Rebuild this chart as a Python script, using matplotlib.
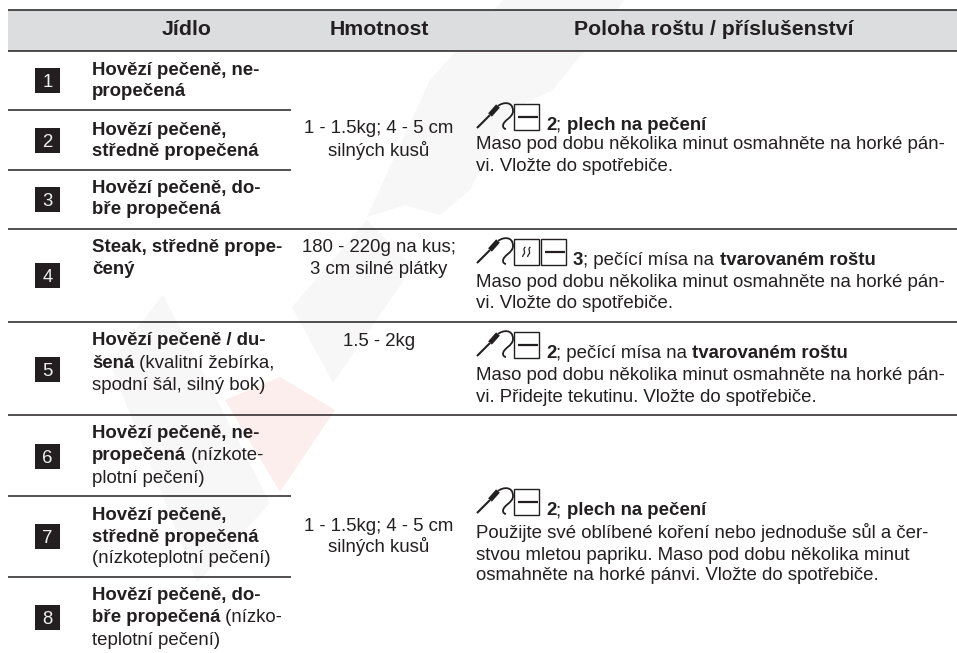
import matplotlib
matplotlib.use("Agg")
import matplotlib.pyplot as plt
from matplotlib.patches import Rectangle, Polygon, PathPatch
from matplotlib.path import Path

plt.rcParams['font.family'] = ['Liberation Sans', 'DejaVu Sans']

headers = ["Jídlo", "Hmotnost", "Poloha roštu / příslušenství"]
row_numbers = ["1", "2", "3", "4", "5", "6", "7", "8"]
food_runs = [
    [[("Hovězí pečeně, ne-", True)], [("propečená", True)]],
    [[("Hovězí pečeně,", True)], [("středně propečená", True)]],
    [[("Hovězí pečeně, do-", True)], [("bře propečená", True)]],
    [[("Steak, středně prope-", True)], [("čený", True)]],
    [[("Hovězí pečeně / du-", True)], [("šená", True), (" (kvalitní žebírka,", False)], [("spodní šál, silný bok)", False)]],
    [[("Hovězí pečeně, ne-", True)], [("propečená", True), (" (nízkote-", False)], [("plotní pečení)", False)]],
    [[("Hovězí pečeně,", True)], [("středně propečená", True)], [("(nízkoteplotní pečení)", False)]],
    [[("Hovězí pečeně, do-", True)], [("bře propečená", True), (" (nízko-", False)], [("teplotní pečení)", False)]],
]
weights = [["1 - 1.5kg; 4 - 5 cm", "silných kusů"],
           ["180 - 220g na kus;", "3 cm silné plátky"],
           ["1.5 - 2kg"],
           ["1 - 1.5kg; 4 - 5 cm", "silných kusů"]]
position_heads = [
    [("2", True), ("; ", False), ("plech na pečení", True)],
    [("3", True), ("; pečící mísa na ", False), ("tvarovaném roštu", True)],
    [("2", True), ("; pečící mísa na ", False), ("tvarovaném roštu", True)],
    [("2", True), ("; ", False), ("plech na pečení", True)],
]
position_bodies = [
    ["Maso pod dobu několika minut osmahněte na horké pán-", "vi. Vložte do spotřebiče."],
    ["Maso pod dobu několika minut osmahněte na horké pán-", "vi. Vložte do spotřebiče."],
    ["Maso pod dobu několika minut osmahněte na horké pán-", "vi. Přidejte tekutinu. Vložte do spotřebiče."],
    ["Použijte své oblíbené koření nebo jednoduše sůl a čer-", "stvou mletou papriku. Maso pod dobu několika minut",
     "osmahněte na horké pánvi. Vložte do spotřebiče."],
]

INK = "#231f20"
BODY = 13.4
fig = plt.figure(figsize=(9.57, 6.53), dpi=100)
ax = fig.add_axes([0, 0, 1, 1])
ax.set_xlim(0, 957)
ax.set_ylim(653, 0)
ax.axis("off")
renderer = fig.canvas.get_renderer()

# faint watermark
for pts, col in [
    ([(367, 217), (430, 80), (503, 0), (625, 0), (553, 90), (510, 110), (470, 190), (440, 215), (405, 205)], "#f7f7f7"),
    ([(292, 307), (367, 220), (413, 267), (333, 383)], "#f7f7f7"),
    ([(110, 363), (163, 295), (270, 503), (197, 583)], "#f7f7f7"),
    ([(280, 377), (335, 410), (280, 492), (225, 400)], "#fdeeee"),
]:
    ax.add_patch(Polygon(pts, closed=True, fc=col, ec="none", zorder=0))

# header band and rules
ax.add_patch(Rectangle((8, 10), 949, 41, fc="#dcddde", ec="none", zorder=1))
for y in [10, 51, 229, 322, 415]:
    ax.plot([8, 957], [y, y], color=INK, lw=1.1, zorder=2, solid_capstyle="butt")
for y in [110, 170, 496, 577]:
    ax.plot([8, 291], [y, y], color=INK, lw=1.1, zorder=2, solid_capstyle="butt")

for x, t in zip([187, 379, 714], headers):
    ax.text(x, 35, t, ha="center", va="baseline", fontsize=15.3, fontweight="bold", color=INK, zorder=3)


def draw_runs(x, y, runs, size=BODY):
    for s, bold in runs:
        t = ax.text(x, y, s, ha="left", va="baseline", fontsize=size, color=INK,
                    fontweight="bold" if bold else "normal", zorder=3)
        x += renderer.get_text_width_height_descent(s.replace(" ", "\u00a0"), t.get_fontproperties(), False)[0]
    return x


# row numbers
num_y = [80, 140.5, 199, 275.5, 369.5, 456.5, 536.5, 617.5]
for n, y in zip(row_numbers, num_y):
    ax.add_patch(Rectangle((35, y - 12.5), 25, 25, fc=INK, ec="none", zorder=2))
    ax.text(47.5, y + 6.7, n, ha="center", va="baseline", fontsize=13.4, color="#eeeeee", zorder=3)

# food column
food_base = [[75, 96], [135, 156], [193, 214], [252, 274], [345, 368, 390],
             [438, 460, 483], [520, 542, 563], [600, 622, 645]]
for lines, bases in zip(food_runs, food_base):
    for runs, y in zip(lines, bases):
        draw_runs(92, y, runs)

# weights
w_base = [[133, 156], [252, 274], [346], [531, 552]]
for lines, bases in zip(weights, w_base):
    for s, y in zip(lines, bases):
        ax.text(379, y, s, ha="center", va="baseline", fontsize=BODY, color=INK, zorder=3)


# icons
def curve(points, lw):
    codes = [Path.MOVETO] + [Path.CURVE4] * (len(points) - 1)
    ax.add_patch(PathPatch(Path(points, codes), fc="none", ec=INK, lw=lw, zorder=3))


def probe(y):
    x = 477
    ax.plot([x, x + 13], [y - 2, y - 15], color=INK, lw=1.5, zorder=3, solid_capstyle="butt")
    ax.plot([x + 13, x + 21], [y - 15, y - 24], color=INK, lw=3.6, zorder=3, solid_capstyle="butt")
    curve([(x + 21, y - 24), (x + 26, y - 28), (x + 36, y - 29), (x + 36, y - 19),
           (x + 36, y - 12), (x + 26, y - 10), (x + 26, y - 4), (x + 26, y - 2), (x + 28, y - 1), (x + 29, y - 1)], 1.3)


def box(x, y, steam=False):
    ax.add_patch(Rectangle((x, y - 26), 25, 26, fc="none", ec=INK, lw=1.0, zorder=3))
    if steam:
        for sx in (x + 10, x + 15):
            curve([(sx + 1.5, y - 18), (sx - 2, y - 16), (sx + 2, y - 13), (sx, y - 11),
                   (sx - 1, y - 10), (sx - 1, y - 9), (sx - 1.5, y - 8)], 0.9)
    else:
        ax.plot([x + 4, x + 24], [y - 13, y - 13], color=INK, lw=1.6, zorder=3, solid_capstyle="butt")


heads = [130, 265, 358, 515]
has_steam = [False, True, False, False]
for hy, steam, runs in zip(heads, has_steam, position_heads):
    probe(hy)
    if steam:
        box(514, hy, steam=True)
        box(541, hy)
        st = 573
    else:
        box(514, hy)
        st = 546
    draw_runs(st, hy, runs)

body_base = [[149, 171], [287, 308], [380, 402], [538, 560, 580]]
for lines, bases in zip(position_bodies, body_base):
    for s, y in zip(lines, bases):
        ax.text(476, y, s, ha="left", va="baseline", fontsize=BODY, color=INK, zorder=3)

fig.savefig("out.png", dpi=100)
